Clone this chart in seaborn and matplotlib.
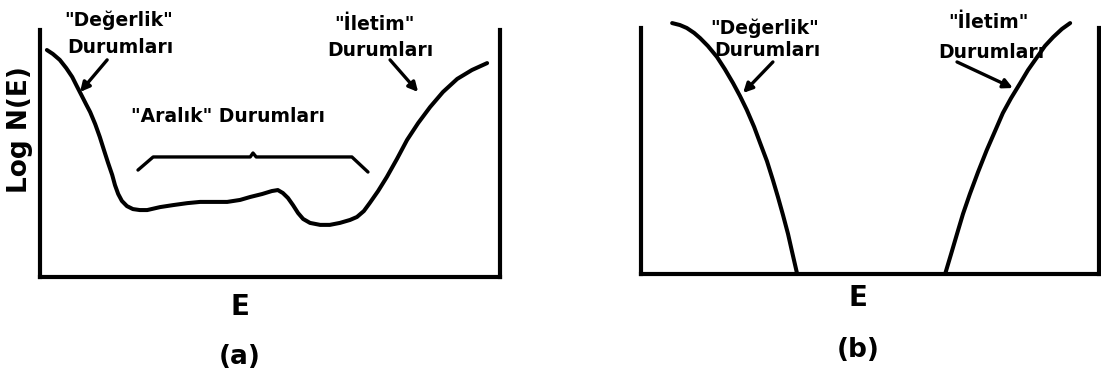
import matplotlib
matplotlib.use("Agg")
import matplotlib.pyplot as plt
import seaborn as sns

# (a) amorphous semiconductor: density of states with gap states
a_energy = [0.15, 0.28, 0.43, 0.57, 0.70, 0.80, 0.91, 1.00, 1.09, 1.20, 1.30, 1.39,
            1.48, 1.57, 1.63, 1.70, 1.78, 1.89, 2.02, 2.17, 2.33, 2.61, 2.89, 3.20,
            3.48, 3.76, 4.07, 4.35, 4.57, 4.83, 5.04, 5.17, 5.28, 5.39, 5.50, 5.61,
            5.72, 5.87, 6.09, 6.30, 6.52, 6.74, 6.89, 7.04, 7.17, 7.35, 7.54, 7.76,
            7.98, 8.22, 8.48, 8.76, 9.07, 9.39, 9.72]
a_logn = [9.19, 9.03, 8.79, 8.46, 8.10, 7.73, 7.33, 7.00, 6.68, 6.19, 5.67, 5.14,
          4.62, 4.13, 3.72, 3.36, 3.08, 2.87, 2.75, 2.71, 2.71, 2.83, 2.91, 2.99,
          3.04, 3.04, 3.04, 3.12, 3.24, 3.36, 3.48, 3.52, 3.40, 3.20, 2.91, 2.59,
          2.35, 2.19, 2.11, 2.11, 2.19, 2.31, 2.43, 2.67, 3.00, 3.48, 4.05, 4.78,
          5.55, 6.23, 6.88, 7.49, 8.02, 8.38, 8.66]

# brace over the gap states
brace_energy = [2.13, 2.46, 4.57, 4.63, 4.70, 6.78, 7.13]
brace_logn = [4.33, 4.86, 4.86, 5.02, 4.86, 4.86, 4.25]

# (b) crystalline semiconductor: valence and conduction band edges
b_val_energy = [0.68, 0.85, 1.00, 1.16, 1.29, 1.46, 1.66, 1.83, 2.01, 2.16, 2.31,
                2.47, 2.60, 2.75, 2.88, 2.99, 3.10, 3.21, 3.30, 3.41]
b_val_logn = [10.20, 10.12, 10.00, 9.80, 9.59, 9.27, 8.82, 8.33, 7.76, 7.24, 6.67,
              5.98, 5.33, 4.59, 3.82, 3.13, 2.40, 1.63, 0.89, 0.00]
b_con_energy = [6.64, 6.77, 6.90, 7.03, 7.18, 7.36, 7.55, 7.73, 7.90, 8.08, 8.28,
                8.45, 8.65, 8.82, 9.00, 9.19, 9.37]
b_con_logn = [0.00, 0.81, 1.63, 2.44, 3.25, 4.15, 5.04, 5.81, 6.54, 7.15, 7.76,
              8.29, 8.82, 9.27, 9.63, 9.96, 10.20]

lbl_valence = '"Değerlik"'
lbl_conduction = '"İletim"'
lbl_states = "Durumları"
lbl_gap = '"Aralık" Durumları'

sns.set_style("white")
plt.rcParams["font.family"] = ["DejaVu Sans"]
plt.rcParams["font.weight"] = "bold"
plt.rcParams["text.color"] = "black"

W, H = 1101, 373
fig = plt.figure(figsize=(W / 100, H / 100), dpi=100)
ax_a = fig.add_axes([40 / W, 96 / H, 460 / W, 247 / H])
ax_b = fig.add_axes([641 / W, 99 / H, 458 / W, 246 / H])

curve_lw = 2.9
for ax in (ax_a, ax_b):
    ax.set_xlim(0, 10)
    ax.set_ylim(0, 10)
    ax.set_xticks([])
    ax.set_yticks([])
    ax.set_facecolor("white")
    for side in ("left", "bottom", "right"):
        ax.spines[side].set_visible(True)
        ax.spines[side].set_color("black")
        ax.spines[side].set_linewidth(3.0)
    ax.spines["top"].set_visible(False)

line_kw = dict(sort=False, color="black", solid_capstyle="round",
               solid_joinstyle="round")

# panel (a)
sns.lineplot(x=a_energy, y=a_logn, ax=ax_a, lw=curve_lw, **line_kw)
sns.lineplot(x=brace_energy, y=brace_logn, ax=ax_a, lw=2.4, **line_kw)

# panel (b)
sns.lineplot(x=b_val_energy, y=b_val_logn, ax=ax_b, lw=curve_lw, **line_kw)
sns.lineplot(x=b_con_energy, y=b_con_logn, ax=ax_b, lw=curve_lw, **line_kw)
for line in ax_b.lines + ax_a.lines:
    line.set_clip_on(False)

arrow = dict(arrowstyle="-|>,head_length=0.55,head_width=0.28", lw=2.4,
             color="black", shrinkA=0, shrinkB=0)

def label(ax, x, y, s, size=13.5):
    ax.text(x, y, s, ha="center", va="center", fontsize=size,
            fontweight="bold", color="black", clip_on=False)

# annotations (a)
label(ax_a, 1.70, 10.40, lbl_valence)
label(ax_a, 1.74, 9.31, lbl_states)
label(ax_a, 7.26, 10.22, lbl_conduction)
label(ax_a, 7.41, 9.19, lbl_states)
label(ax_a, 4.09, 6.48, lbl_gap)
ax_a.annotate("", xy=(0.87, 7.49), xytext=(1.46, 8.79), arrowprops=arrow,
              annotation_clip=False)
ax_a.annotate("", xy=(8.22, 7.49), xytext=(7.61, 8.79), arrowprops=arrow,
              annotation_clip=False)

# annotations (b)
label(ax_b, 2.71, 10.0, lbl_valence)
label(ax_b, 2.75, 9.07, lbl_states)
label(ax_b, 7.58, 10.24, lbl_conduction)
label(ax_b, 7.64, 9.02, lbl_states)
ax_b.annotate("", xy=(2.23, 7.36), xytext=(2.88, 8.62), arrowprops=arrow,
              annotation_clip=False)
ax_b.annotate("", xy=(8.12, 7.56), xytext=(6.90, 8.62), arrowprops=arrow,
              annotation_clip=False)

# axis names and panel tags
ax_a.text(-0.43, 5.95, "Log N(E)", rotation=90, ha="center", va="center",
          fontsize=19, fontweight="bold", color="black", clip_on=False)
ax_a.text(4.35, -1.21, "E", ha="center", va="center", fontsize=20,
          fontweight="bold", color="black", clip_on=False)
ax_a.text(4.35, -3.24, "(a)", ha="center", va="center", fontsize=19,
          fontweight="bold", color="black", clip_on=False)
ax_b.text(4.74, -0.98, "E", ha="center", va="center", fontsize=20,
          fontweight="bold", color="black", clip_on=False)
ax_b.text(4.74, -3.09, "(b)", ha="center", va="center", fontsize=19,
          fontweight="bold", color="black", clip_on=False)

fig.savefig("out.png", dpi=100, facecolor="white")
